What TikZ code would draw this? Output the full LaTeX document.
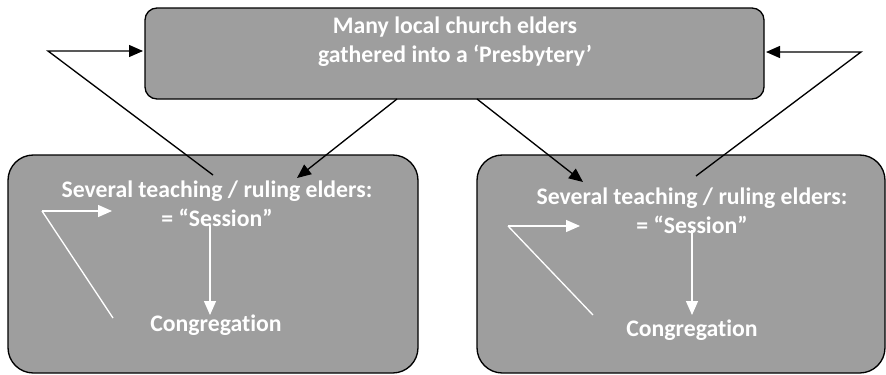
\documentclass[tikz,border=0pt]{standalone}
\usepackage{fontspec}
\setmainfont[Ligatures={NoCommon}]{Carlito}
\usetikzlibrary{arrows.meta}
\definecolor{boxgray}{RGB}{158,158,158}
\begin{document}
\begin{tikzpicture}[x=0.75pt,y=-0.75pt,
  box/.style={draw=black,line width=1pt,fill=boxgray,inner sep=0pt},
  lbl/.style={text=white,font=\fontsize{17.8}{21.8}\selectfont\bfseries,align=center,inner sep=0pt},
  blk/.style={draw=black,line width=1pt,-{Triangle[length=10.5pt,width=9pt]}},
  wht/.style={draw=white,line width=1pt,-{Triangle[length=10.5pt,width=9pt]}},
  whl/.style={draw=white,line width=1pt}]
\useasboundingbox (0,0) rectangle (886,375);
% boxes
\node[box,rounded corners=9pt,minimum width=464.25pt,minimum height=68.25pt] (top) at (454.5,53.5) {};
\node[box,rounded corners=19pt,minimum width=307.5pt,minimum height=163.5pt] (lbox) at (213,264) {};
\node[box,rounded corners=19pt,minimum width=306pt,minimum height=163.5pt] (rbox) at (681,264) {};
% texts
\node[lbl] (ttop) at (455,42) {Many local church elders\\gathered into a ‘Presbytery’};
\node[lbl] (lsess) at (217,204) {Several teaching / ruling elders:\\= “Session”};
\node[lbl] (lcong) at (216,325) {Congregation};
\node[lbl] (rsess) at (692,211) {Several teaching / ruling elders:\\= “Session”};
\node[lbl] (rcong) at (692,330) {Congregation};
% coordinates
\coordinate (la) at (213,175);
\coordinate (lb) at (48,51);
\coordinate (lc) at (143,51);
\coordinate (ra) at (696,176);
\coordinate (rb) at (861,52);
\coordinate (rc) at (766,52);
\coordinate (td1) at (397,99);
\coordinate (te1) at (297,178);
\coordinate (td2) at (477,99);
\coordinate (te2) at (583,182);
% black connectors
\draw[blk] (la) -- (lb) -- (lc);
\draw[blk] (ra) -- (rb) -- (rc);
\draw[blk] (td1) -- (te1);
\draw[blk] (td2) -- (te2);
% white arrows left
\coordinate (lw1) at (42,211);
\coordinate (lw2) at (112,211);
\coordinate (lw3) at (113,318);
\coordinate (lv1) at (210,225);
\coordinate (lv2) at (210,315);
\draw[wht] (lw1) -- (lw2);
\draw[whl] (lw1) -- (lw3);
\draw[wht] (lv1) -- (lv2);
% white arrows right
\coordinate (rw1) at (508,226);
\coordinate (rw2) at (580,226);
\coordinate (rw3) at (593,315);
\coordinate (rv1) at (692,230);
\coordinate (rv2) at (692,315);
\draw[wht] (rw1) -- (rw2);
\draw[whl] (rw1) -- (rw3);
\draw[wht] (rv1) -- (rv2);
\end{tikzpicture}
\end{document}
